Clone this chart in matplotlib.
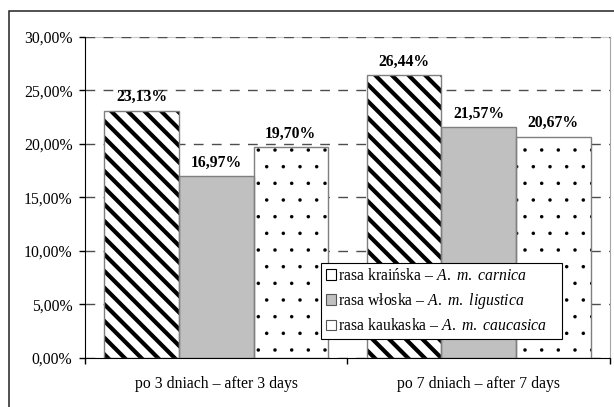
import matplotlib
matplotlib.use("Agg")
import matplotlib.pyplot as plt
import numpy as np
from matplotlib.patches import Patch, Rectangle
from matplotlib.ticker import FuncFormatter, FixedLocator

plt.rcParams["font.family"] = ["Liberation Serif", "DejaVu Serif"]
plt.rcParams["mathtext.fontset"] = "custom"
plt.rcParams["mathtext.rm"] = "Liberation Serif"
plt.rcParams["mathtext.it"] = "Liberation Serif:italic"

# data
periods = ["po 3 dniach – after 3 days", "po 7 dniach – after 7 days"]
carnica = [23.13, 26.44]
ligustica = [16.97, 21.57]
caucasica = [19.70, 20.67]
series_labels = [
    r"rasa kraińska – $\mathit{A.\ m.\ carnica}$",
    r"rasa włoska – $\mathit{A.\ m.\ ligustica}$",
    r"rasa kaukaska – $\mathit{A.\ m.\ caucasica}$",
]
yticks = [0, 5, 10, 15, 20, 25, 30]

FS = 11.3

fig = plt.figure(figsize=(6.14, 4.07), dpi=100)
ax = fig.add_axes([0.1384, 0.1204, 0.8551, 0.7887])

x = np.arange(len(periods))
w = 0.284
edge = "#7f7f7f"

# hatched / gray / dotted bars; fill pass carries the hatch, outline pass the gray edge
with plt.rc_context({"hatch.linewidth": 3.0}):
    ax.bar(x - w, carnica, w, facecolor="white", edgecolor="black", hatch="\\\\",
           linewidth=0, zorder=2)
ax.bar(x, ligustica, w, facecolor="#c0c0c0", linewidth=0, zorder=2)
with plt.rc_context({"hatch.linewidth": 0.1}):
    ax.bar(x + w, caucasica, w, facecolor="white", edgecolor="black", hatch=".",
           linewidth=0, zorder=2)
for off, vals in zip((-w, 0, w), (carnica, ligustica, caucasica)):
    ax.bar(x + off, vals, w, facecolor="none", edgecolor=edge, linewidth=1.0, zorder=3)
    for xi, v in zip(x + off, vals):
        ax.annotate(f"{v:.2f}%".replace(".", ","), (xi, v), xytext=(0, 4),
                    textcoords="offset points", ha="center", va="bottom",
                    fontsize=FS, fontweight="bold", zorder=4)

ax.set_xlim(-0.5, 1.5)
ax.set_ylim(0, 30)
ax.yaxis.set_major_locator(FixedLocator(yticks))
ax.yaxis.set_major_formatter(FuncFormatter(lambda v, p: f"{v:.2f}%".replace(".", ",")))
ax.set_xticks(x)
ax.set_xticklabels(periods)
ax.set_xticks([-0.5, 0.5, 1.5], minor=True)
ax.tick_params(axis="x", which="major", length=0, pad=13, labelsize=FS)
ax.tick_params(axis="x", which="minor", length=4, width=1, direction="out")
ax.tick_params(axis="y", length=4, width=1, direction="out", pad=5, labelsize=FS)

ax.set_axisbelow(True)
ax.yaxis.grid(True, color="#4d4d4d", linewidth=1.0, linestyle=(0, (7, 6)))
ax.spines["left"].set_color("black")
ax.spines["bottom"].set_color("black")
ax.spines["bottom"].set_zorder(5)
ax.spines["right"].set_color("#a6a6a6")
ax.spines["top"].set_color("#c8c8c8")
ax.spines["top"].set_zorder(0.4)

handles = [
    Patch(facecolor="white", edgecolor="black", linewidth=0.8),
    Patch(facecolor="#c0c0c0", edgecolor="#555555", linewidth=0.8),
    Patch(facecolor="white", edgecolor="#555555", linewidth=0.8),
]
leg = ax.legend(handles, series_labels, loc="lower left",
                bbox_to_anchor=(0.4495, 0.0592, 0.4591, 0.2336), mode="expand",
                fontsize=FS, frameon=True, fancybox=False, framealpha=1,
                edgecolor="black", handlelength=0.65, handleheight=0.65,
                handletextpad=0.15, labelspacing=0.45, borderpad=0.3,
                borderaxespad=0)
leg.get_frame().set_linewidth(0.8)
leg.set_zorder(6)

# outer chart border (runs off the right and bottom of the image)
fig.add_artist(Rectangle((9 / 614, -0.1), 1.2, 1.1 - 11 / 407,
                         transform=fig.transFigure, fill=False,
                         edgecolor="#222222", linewidth=1.1))

fig.savefig("out.png", dpi=100)
